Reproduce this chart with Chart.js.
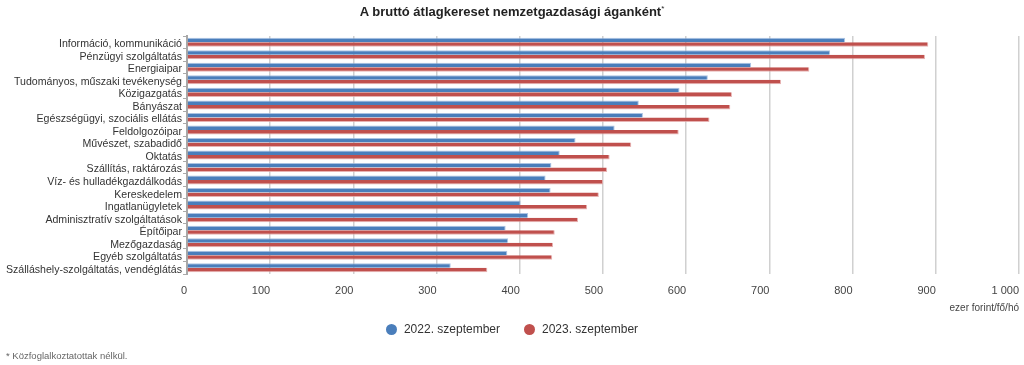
<!DOCTYPE html>
<html lang="hu">
<head>
<meta charset="utf-8">
<script src="https://cdn.jsdelivr.net/npm/chart.js@4.4.0/dist/chart.umd.min.js"></script>
<style>
  html, body { margin: 0; padding: 0; background: #fff; }
  #wrap { position: relative; width: 1024px; height: 365px; font-family: "Liberation Sans", Arial, sans-serif; }
  #wrap canvas { position: absolute; left: 0; top: 0; }
  #title { position: absolute; top: 4px; left: 0; width: 1024px; text-align: center; font-size: 13px; font-weight: bold; color: #222; }
  #title sup { font-size: 8px; font-weight: normal; }
  #legend { position: absolute; top: 322px; left: 0; width: 1024px; display: flex; justify-content: center; font-size: 12px; color: #333; }
  #legend .item { display: flex; align-items: center; margin: 0 12px; }
  #legend .dot { width: 11px; height: 11px; border-radius: 50%; margin-right: 7px; }
  #note { position: absolute; left: 6px; top: 350px; font-size: 9.5px; color: #666; }
</style>
</head>
<body>
<div id="wrap">
  <canvas id="chart" width="1024" height="365"></canvas>
  <div id="title">A bruttó átlagkereset nemzetgazdasági áganként<sup>*</sup></div>
  <div id="legend"></div>
  <div id="note">* Közfoglalkoztatottak nélkül.</div>
</div>
<script>
// Data
const categories = [
    'Információ, kommunikáció',
    'Pénzügyi szolgáltatás',
    'Energiaipar',
    'Tudományos, műszaki tevékenység',
    'Közigazgatás',
    'Bányászat',
    'Egészségügyi, szociális ellátás',
    'Feldolgozóipar',
    'Művészet, szabadidő',
    'Oktatás',
    'Szállítás, raktározás',
    'Víz- és hulladékgazdálkodás',
    'Kereskedelem',
    'Ingatlanügyletek',
    'Adminisztratív szolgáltatások',
    'Építőipar',
    'Mezőgazdaság',
    'Egyéb szolgáltatás',
    'Szálláshely-szolgáltatás, vendéglátás'
];
const sep2022 = [791, 773, 678, 626, 592, 543, 548, 514, 467, 448, 438, 431, 437, 401, 410, 383, 386, 385, 317];
const sep2023 = [891, 887, 748, 714, 655, 653, 628, 591, 534, 508, 505, 500, 495, 481, 470, 442, 440, 439, 361];
const seriesLabels = ['2022. szeptember', '2023. szeptember'];
const xTicks = [0, 100, 200, 300, 400, 500, 600, 700, 800, 900, 1000];

const BLUE = '#4a7ebb';
const RED = '#c0504d';

Chart.defaults.font.family = '"Liberation Sans", Arial, sans-serif';
Chart.defaults.color = '#333';

const chart = new Chart(document.getElementById('chart'), {
    type: 'bar',
    data: {
        labels: categories,
        datasets: [
            { label: seriesLabels[0], data: sep2022, backgroundColor: BLUE, borderColor: 'rgba(150,180,220,0.8)', borderWidth: { top: 1, right: 1, bottom: 0, left: 0 } },
            { label: seriesLabels[1], data: sep2023, backgroundColor: RED, borderColor: 'rgba(225,160,160,0.8)', borderWidth: { top: 0, right: 1, bottom: 1, left: 0 } }
        ]
    },
    options: {
        indexAxis: 'y',
        responsive: false,
        animation: false,
        layout: { padding: { top: 36, right: 5, bottom: 51, left: 0 } },
        datasets: { bar: { categoryPercentage: 0.72, barPercentage: 1 } },
        plugins: {
            legend: { display: false },
            tooltip: { enabled: false }
        },
        scales: {
            x: {
                min: 0,
                max: 1000,
                afterBuildTicks: (scale) => { scale.ticks = xTicks.map(v => ({ value: v })); },
                afterFit: (scale) => {
                    scale.height = 40;
                    // labels are right-aligned, so no extra room needed at the ends
                    scale.paddingLeft = 0;
                    scale.paddingRight = 0;
                },
                grid: { color: '#d0d0d0', lineWidth: 1.5, tickLength: 0, drawTicks: false },
                border: { display: false },
                ticks: {
                    align: 'end',
                    padding: 10,
                    font: { size: 11 },
                    color: '#444',
                    callback: (v) => v >= 1000 ? '1 000' : String(v)
                },
                title: {
                    display: true,
                    text: 'ezer forint/fő/hó',
                    align: 'end',
                    font: { size: 10 },
                    color: '#444',
                    padding: { top: 2, bottom: 0 }
                }
            },
            y: {
                afterFit: (scale) => { scale.width = 187; },
                grid: { drawOnChartArea: false, tickLength: 4, color: '#aaa' },
                border: { color: '#a8a8a8', width: 2 },
                ticks: { font: { size: 10.6 }, color: '#333', padding: 1, labelOffset: 2, autoSkip: false }
            }
        }
    }
});

// HTML legend built from the datasets
const legendEl = document.getElementById('legend');
chart.data.datasets.forEach(ds => {
    const item = document.createElement('div');
    item.className = 'item';
    item.innerHTML = `<span class="dot" style="background:${ds.backgroundColor}"></span>${ds.label}`;
    legendEl.appendChild(item);
});
</script>
</body>
</html>
